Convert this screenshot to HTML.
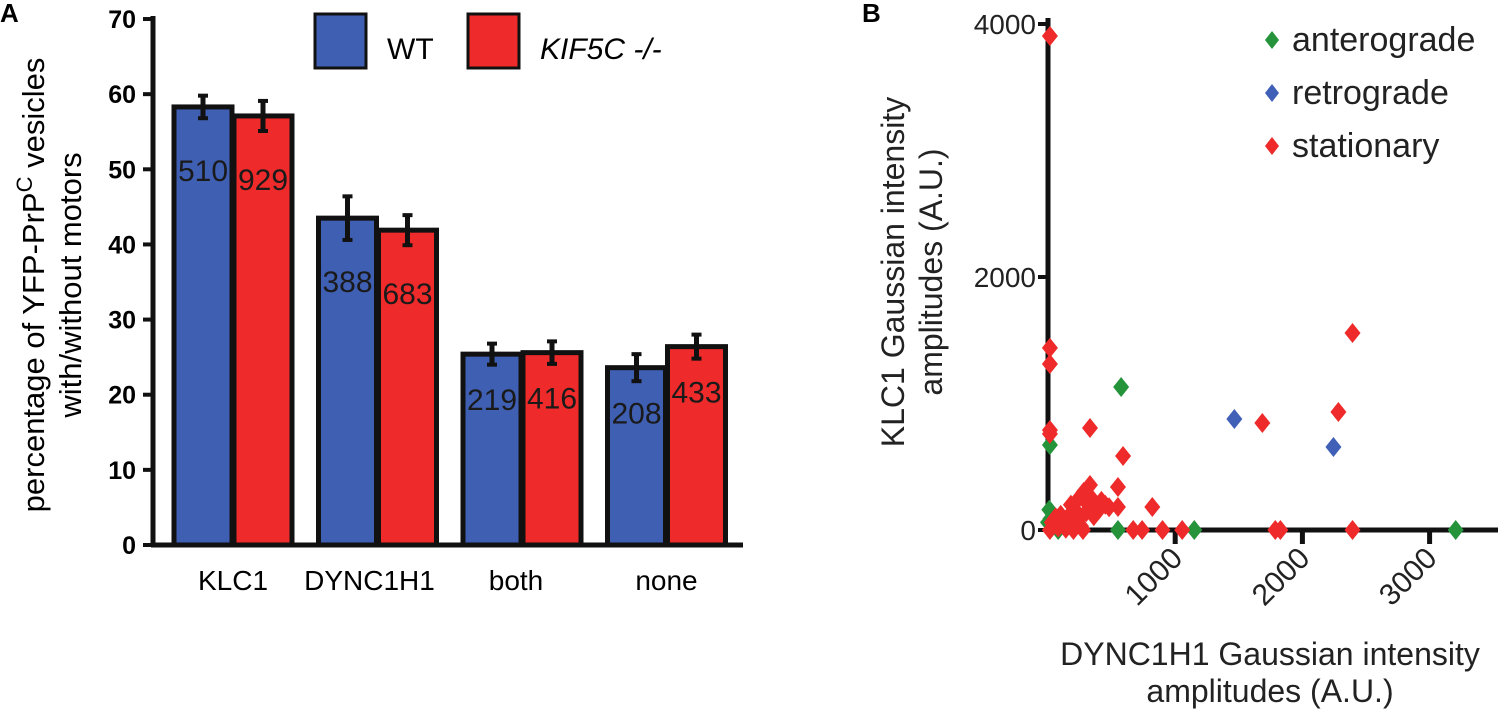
<!DOCTYPE html>
<html><head><meta charset="utf-8"><style>
html,body{margin:0;padding:0;background:#fff;}
svg{display:block;font-family:"Liberation Sans",sans-serif;}
</style></head><body>
<svg id="fig" width="1500" height="709" viewBox="0 0 1500 709">
<text x="0" y="22" font-size="26" font-weight="bold">A</text>
<text x="862" y="22" font-size="26" font-weight="bold">B</text>
<g id="barChart"></g>
<g id="scatter"></g>
</svg>
<script>
const NS="http://www.w3.org/2000/svg";
function mk(parent,tag,attrs,txt){const e=document.createElementNS(NS,tag);for(const k in attrs)e.setAttribute(k,attrs[k]);if(txt!==undefined)e.textContent=txt;parent.appendChild(e);return e;}

// ---------- Panel A data ----------
const categories=["KLC1","DYNC1H1","both","none"];
const wtValues=[58.3,43.5,25.4,23.6];
const wtErrors=[1.5,2.9,1.4,1.8];
const koValues=[57.1,41.9,25.6,26.4];
const koErrors=[2.0,2.0,1.5,1.6];
const wtCounts=["510","388","219","208"];
const koCounts=["929","683","416","433"];
const yTicksA=[0,10,20,30,40,50,60,70];

const A=document.getElementById('barChart');
const yA=v=>545-v*7.514;
const xA=i=>233+i*144.5;
const bw=58;
let ax=mk(A,'line',{x1:153,y1:16,x2:153,y2:547,stroke:'#111','stroke-width':5});

ax=mk(A,'line',{x1:151,y1:545,x2:743,y2:545,stroke:'#111','stroke-width':5});

yTicksA.forEach(t=>{
  mk(A,'line',{x1:143,y1:yA(t),x2:153,y2:yA(t),stroke:'#111','stroke-width':4});
  const l=mk(A,'text',{x:136,y:yA(t)+9,'font-size':25,'font-weight':'bold','text-anchor':'end'},t);
  
});
function bar(i,v,e,fill,x,cnt,nm){
  const r=mk(A,'rect',{x:x,y:yA(v),width:bw,height:545-yA(v),fill:fill,stroke:'#111','stroke-width':5});
  
  mk(A,'line',{x1:x+bw/2,y1:yA(v+e),x2:x+bw/2,y2:yA(v-e),stroke:'#111','stroke-width':5});
  mk(A,'line',{x1:x+bw/2-5,y1:yA(v+e),x2:x+bw/2+5,y2:yA(v+e),stroke:'#111','stroke-width':4});
  mk(A,'line',{x1:x+bw/2-5,y1:yA(v-e),x2:x+bw/2+5,y2:yA(v-e),stroke:'#111','stroke-width':4});
  const t=mk(A,'text',{x:x+bw/2,y:yA(v)+(v>35?74:56),'font-size':30,'text-anchor':'middle',fill:'#1a1a1a'},cnt);
  
}
categories.forEach((c,i)=>{
  bar(i,wtValues[i],wtErrors[i],'#3f5fb3',xA(i)-bw-1,wtCounts[i],'bar-wt-'+c.toLowerCase());
  bar(i,koValues[i],koErrors[i],'#ee2a2a',xA(i)+1,koCounts[i],'bar-ko-'+c.toLowerCase());
  const l=mk(A,'text',{x:xA(i)+(i==1?-8:(i==2?-6:0)),y:590,'font-size':28,'text-anchor':'middle'},c);
  
});
let yt=mk(A,'text',{transform:'translate(44,285) rotate(-90)','font-size':31,'text-anchor':'middle'});

yt.innerHTML='percentage of YFP-PrP<tspan dy="-12" font-size="22">C</tspan><tspan dy="12"> vesicles</tspan>';
yt=mk(A,'text',{transform:'translate(81,285) rotate(-90)','font-size':31,'text-anchor':'middle'},'with/without motors');

let lg=mk(A,'rect',{x:315,y:14,width:51,height:54,fill:'#3f5fb3',stroke:'#111','stroke-width':3});

lg=mk(A,'text',{x:387,y:59,'font-size':30},'WT');

lg=mk(A,'rect',{x:468,y:14,width:51,height:54,fill:'#ee2a2a',stroke:'#111','stroke-width':3});

lg=mk(A,'text',{x:540,y:59,'font-size':30,'font-style':'italic'},'KIF5C -/-');


// ---------- Panel B data ----------
const anteroX=[575,15,10,0,80,550,1150,3205,20];
const anteroY=[1130,672,160,60,0,0,0,0,90];
const retroX=[1465,2244];
const retroY=[877,656];
const statX=[15,2394,15,15,2283,1685,330,15,15,590,330,550,820,550,15,200,275,670,740,900,1055,1787,1827,2394,100,150,180,220,250,280,300,330,350,380,400,420,450,480,200,260,60,30,120,170,240,300,360,80,140];
const statY=[3905,1557,1440,1312,933,846,806,790,760,585,356,340,182,182,0,0,0,0,0,0,0,0,0,0,120,80,200,150,260,300,220,180,240,200,160,230,200,180,50,30,100,60,40,120,90,140,110,20,10];
const xTicksB=[1000,2000,3000];
const yTicksB=[0,2000,4000];

const B=document.getElementById('scatter');
const xB=v=>1048+v*0.1272;
const yB=v=>530-v*0.1265;
ax=mk(B,'line',{x1:1048,y1:18,x2:1048,y2:532,stroke:'#111','stroke-width':5});

ax=mk(B,'line',{x1:1046,y1:530,x2:1498,y2:530,stroke:'#111','stroke-width':5});

yTicksB.forEach(t=>{
  mk(B,'line',{x1:1038,y1:yB(t),x2:1048,y2:yB(t),stroke:'#111','stroke-width':4});
  const l=mk(B,'text',{x:1036,y:yB(t)+10,'font-size':28,'text-anchor':'end',fill:'#222'},t);
  
});
xTicksB.forEach(t=>{
  mk(B,'line',{x1:xB(t),y1:530,x2:xB(t),y2:544,stroke:'#111','stroke-width':5});
  const l=mk(B,'text',{transform:`translate(${xB(t)+9},560) rotate(-45)`,'font-size':30,'text-anchor':'end',fill:'#222'},t);
  
});
function dia(x,y,c,nm){
  const cx=xB(x),cy=yB(y);
  const p=mk(B,'polygon',{points:`${cx},${cy-10} ${cx+8},${cy} ${cx},${cy+10} ${cx-8},${cy}`,fill:c});
  
}
anteroX.forEach((x,i)=>dia(x,anteroY[i],'#24933a','point-anterograde'));
statX.forEach((x,i)=>dia(x,statY[i],'#ee2a2a','point-stationary'));
retroX.forEach((x,i)=>dia(x,retroY[i],'#4060b8','point-retrograde'));
[['anterograde','#24933a',40],['retrograde','#4060b8',93],['stationary','#ee2a2a',146]].forEach(([n,c,y])=>{
  const p=mk(B,'polygon',{points:`1272,${y-9} 1279,${y} 1272,${y+9} 1265,${y}`,fill:c});
  
  const t=mk(B,'text',{x:1292,y:y+11,'font-size':34,fill:'#222'},n);
  
});
yt=mk(B,'text',{transform:'translate(904,272) rotate(-90)','font-size':32,'text-anchor':'middle',fill:'#222'},'KLC1 Gaussian intensity');

yt=mk(B,'text',{transform:'translate(942,272) rotate(-90)','font-size':32,'text-anchor':'middle',fill:'#222'},'amplitudes (A.U.)');

yt=mk(B,'text',{x:1270,y:665,'font-size':32,'text-anchor':'middle',fill:'#222'},'DYNC1H1 Gaussian intensity');

yt=mk(B,'text',{x:1270,y:702,'font-size':32,'text-anchor':'middle',fill:'#222'},'amplitudes (A.U.)');

</script>
</body></html>
